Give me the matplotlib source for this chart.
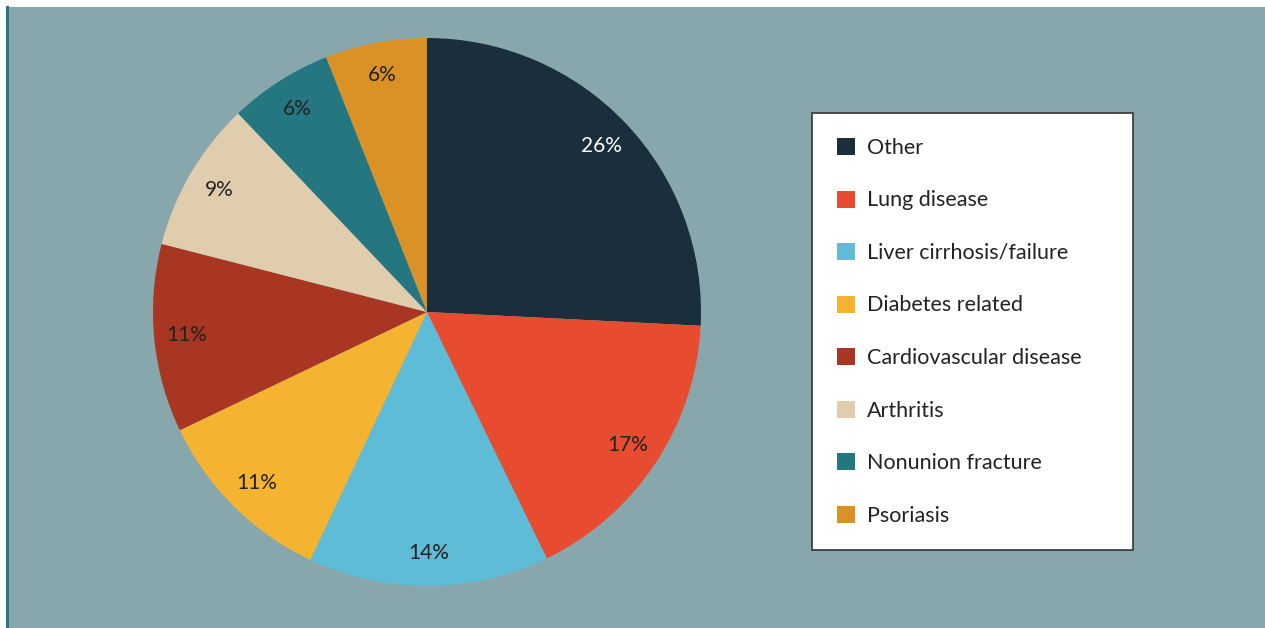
import matplotlib.pyplot as plt
from matplotlib.patches import Patch
from matplotlib.lines import Line2D

plt.rcParams['font.family'] = ['Lato', 'DejaVu Sans']

# data
causes = ['Other', 'Lung disease', 'Liver cirrhosis/failure', 'Diabetes related',
          'Cardiovascular disease', 'Arthritis', 'Nonunion fracture', 'Psoriasis']
shares = [25.8, 17.0, 14.2, 10.9, 11.1, 8.9, 6.1, 6.0]
colors = ['#1b2e3c', '#e84c30', '#5ebcd6', '#f4b431',
          '#a83622', '#e0cdad', '#247680', '#da9227']
label_colors = ['white'] + ['#222222'] * 7

W, H = 1265, 628
fig = plt.figure(figsize=(W / 100, H / 100), dpi=100, facecolor='white')

# panel background
bg = fig.add_axes([8 / W, 0, 1 - 8 / W, (H - 7) / H])
bg.set_facecolor('#87a7ad')
bg.set_xticks([])
bg.set_yticks([])
for s in bg.spines.values():
    s.set_visible(False)
fig.add_artist(Line2D([7.5 / W, 7.5 / W], [0, (H - 7) / H], color='#247680', lw=2.2,
                      transform=fig.transFigure))

# pie
cx, cy, r = 427, H - 312, 274
ax = fig.add_axes([(cx - r) / W, (cy - r) / H, 2 * r / W, 2 * r / H])
ax.set_facecolor('none')
wedges, texts, autotexts = ax.pie(shares, colors=colors, startangle=90, counterclock=False,
                                  autopct='%1.0f%%', pctdistance=0.88, radius=1,
                                  wedgeprops=dict(linewidth=0))
for t, c in zip(autotexts, label_colors):
    t.set_color(c)
    t.set_fontsize(15)
ax.set_xlim(-1, 1)
ax.set_ylim(-1, 1)
ax.set_aspect('equal')
ax.axis('off')

# legend
handles = [Patch(facecolor=c, edgecolor='none') for c in colors]
lx0, ly0, lx1, ly1 = 812, 113, 1133, 545
leg = fig.legend(handles, causes, loc='upper left',
                 bbox_to_anchor=(lx0 / W, (H - ly1) / H, (lx1 - lx0) / W, (ly1 - ly0) / H),
                 mode='expand', borderaxespad=0, fontsize=15.5, frameon=True, fancybox=False,
                 handlelength=0.84, handleheight=0.84, handletextpad=0.55,
                 labelspacing=1.51, borderpad=1.16, labelcolor='#222222')
leg.get_frame().set_edgecolor('#333333')
leg.get_frame().set_linewidth(1.2)
leg.get_frame().set_facecolor('white')
leg.get_frame().set_alpha(1)

fig.savefig('out.png', dpi=100, facecolor='white')
